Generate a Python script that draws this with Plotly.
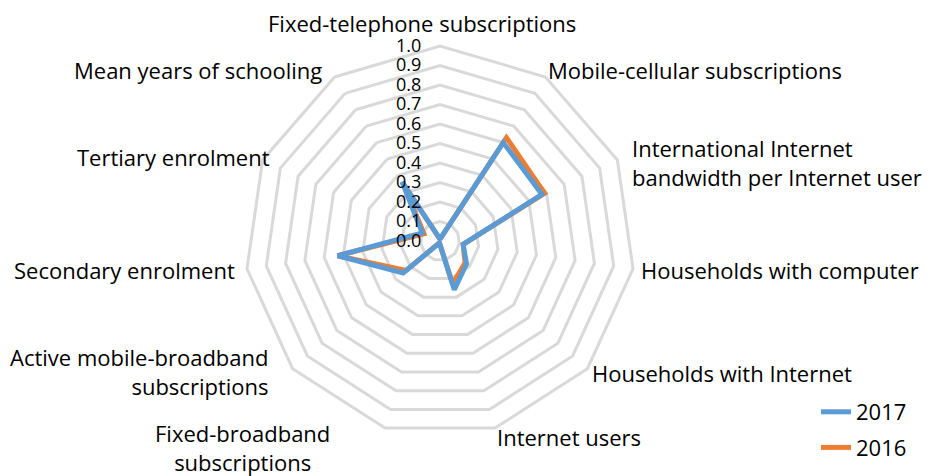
import plotly.graph_objects as go

W, H = 934, 476
OFF = 8  # page body margin offset in the browser

categories = [
    "Fixed-telephone subscriptions",
    "Mobile-cellular subscriptions",
    "International Internet bandwidth per Internet user",
    "Households with computer",
    "Households with Internet",
    "Internet users",
    "Fixed-broadband subscriptions",
    "Active mobile-broadband subscriptions",
    "Secondary enrolment",
    "Tertiary enrolment",
    "Mean years of schooling",
]
values_2017 = [0.01, 0.60, 0.575, 0.12, 0.18, 0.26, 0.01, 0.25, 0.53, 0.10, 0.36]
values_2016 = [0.01, 0.63, 0.59, 0.12, 0.17, 0.23, 0.01, 0.23, 0.53, 0.09, 0.35]
radial_ticks = [round(i * 0.1, 1) for i in range(11)]

label_text = [
    "Fixed-telephone subscriptions",
    "Mobile-cellular subscriptions",
    "International Internet<br>bandwidth per Internet user",
    "Households with computer",
    "Households with Internet",
    "Internet users",
    "Fixed-broadband<br>subscriptions",
    "Active mobile-broadband<br>subscriptions",
    "Secondary enrolment",
    "Tertiary enrolment",
    "Mean years of schooling",
]
# screen positions (x, y, anchor)
label_pos = [
    (422, 23, "center"),
    (546, 70, "left"),
    (630, 163, "left"),
    (639, 270, "left"),
    (590, 373, "left"),
    (495, 437, "left"),
    (242, 447, "center"),
    (271, 371, "right"),
    (237, 270, "right"),
    (272, 157, "right"),
    (324, 70, "right"),
]

BLUE = "#5B9BD5"
ORANGE = "#ED7D31"
GRID = "#D9D9D9"
FONT = "Open Sans"


def px(x):
    return (x - OFF) / W


def py(y):
    return (H - (y - OFF)) / H


fig = go.Figure()
fig.add_trace(go.Scatterpolar(
    r=values_2016 + values_2016[:1], theta=categories + categories[:1],
    mode="lines", name="2016", line=dict(color=ORANGE, width=5),
    legendrank=2, legendgroup="b",
))
fig.add_trace(go.Scatterpolar(
    r=values_2017 + values_2017[:1], theta=categories + categories[:1],
    mode="lines", name="2017", line=dict(color=BLUE, width=5),
    legendrank=1, legendgroup="a",
))

cx, cy, R = 440, 241, 195  # screen centre and radius
fig.update_layout(
    width=W, height=H,
    margin=dict(l=0, r=0, t=0, b=0),
    paper_bgcolor="white", plot_bgcolor="white",
    font=dict(family=FONT, size=22, color="black"),
    polar=dict(
        domain=dict(x=[px(cx - R), px(cx + R)],
                    y=[py(cy + R), py(cy - R)]),
        gridshape="linear",
        bgcolor="white",
        angularaxis=dict(
            rotation=90, direction="clockwise",
            showticklabels=False, ticks="",
            showgrid=False, showline=True,
            linecolor=GRID, linewidth=3,
        ),
        radialaxis=dict(
            range=[0, 1], tickvals=radial_ticks,
            ticktext=[f"{v:.1f}" for v in radial_ticks],
            angle=90, side="counterclockwise", tickangle=90,
            showline=False, ticks="outside", ticklen=12,
            tickcolor="rgba(0,0,0,0)",
            gridcolor=GRID, gridwidth=3,
            tickfont=dict(family=FONT, size=18, color="black"),
        ),
    ),
    legend=dict(
        x=px(816), y=py(391), xanchor="left", yanchor="top",
        font=dict(family=FONT, size=22, color="black"),
        tracegroupgap=4, traceorder="grouped",
        bgcolor="rgba(0,0,0,0)",
    ),
)

for txt, (x, y, xa) in zip(label_text, label_pos):
    fig.add_annotation(
        text=txt, x=px(x), y=py(y), xref="paper", yref="paper",
        xanchor=xa, yanchor="middle", showarrow=False,
        align={"left": "left", "right": "right", "center": "center"}[xa],
        font=dict(family=FONT, size=22, color="black"),
    )

fig.write_html("out.html")
